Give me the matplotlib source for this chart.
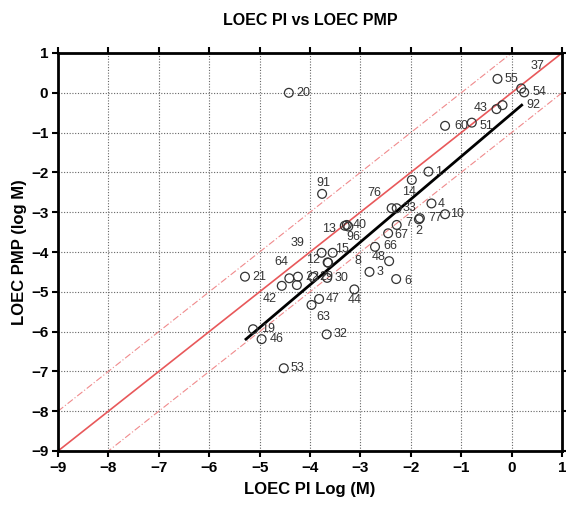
import matplotlib
matplotlib.use("Agg")
import matplotlib.pyplot as plt
import numpy as np

plt.rcParams['font.family'] = ['Liberation Sans', 'DejaVu Sans']

# ---- data (log M) ----
labels = ['20', '55', '37', '54', '92', '43', '51', '60', '1', '14', '91', '76', '33', '4',
          '77', '10', '2', '7', '67', '66', '40', '13', '96', '39', '15', '12', '8', '48',
          '3', '6', '44', '47', '63', '32', '21', '42', '64', '22', '', '29', '30',
          '19', '46', '53']
loec_pi = [-4.42, -0.28, 0.19, 0.25, -0.18, -0.30, -0.79, -1.32, -1.65, -1.98, -3.76, -2.38,
           -2.28, -1.59, -1.82, -1.32, -1.84, -2.28, -2.45, -2.71, -3.27, -3.31, -3.24, -3.77,
           -3.55, -3.65, -3.64, -2.43, -2.82, -2.29, -3.12, -3.82, -3.97, -3.67, -5.29, -4.56,
           -4.41, -4.24, -4.26, -3.94, -3.66, -5.13, -4.96, -4.52]
loec_pmp = [0.00, 0.35, 0.11, 0.01, -0.31, -0.41, -0.75, -0.83, -1.98, -2.19, -2.54, -2.90,
            -2.90, -2.78, -3.15, -3.05, -3.18, -3.32, -3.53, -3.87, -3.32, -3.34, -3.36, -4.02,
            -4.02, -4.26, -4.27, -4.23, -4.50, -4.68, -4.94, -5.18, -5.33, -6.07, -4.62, -4.85,
            -4.66, -4.62, -4.83, -4.63, -4.65, -5.94, -6.19, -6.92]
# label offsets (pixels) from each point
label_dx = [14, 14, 16, 15, 31, -16, 15, 16, 10, -3, 1, -17, 13, 10,
            15, 12, 0, 12, 13, 15, 13, -16, 5, -24, 9, -15, 30, -11,
            11, 12, 0, 14, 12, 14, 14, -12, -8, 14, 0, 13, 14,
            15, 15, 14]
label_dy = [0, 0, 22, 0, 0, 1, -3, 0, 0, -12, 11, 15, 0, -1,
            0, 0, -12, 2, -2, 1, 0, -3, -10, 10, 4, 2, 2, 4,
            0, -2, -11, 0, -12, 0, 0, -13, 16, 0, 0, 0, 0,
            0, 0, 0]

# regression line endpoints
fit_x = [-5.27, 0.20]
fit_y = [-6.19, -0.31]

ticks = list(range(-9, 2))

fig = plt.figure(figsize=(5.66, 5.09), dpi=100)
ax = fig.add_axes([58 / 566, 1 - 451 / 509, (562 - 58) / 566, (451 - 53) / 509])
ax.set_xlim(-9, 1)
ax.set_ylim(-9, 1)

ax.set_xticks(ticks)
ax.set_yticks(ticks)
ax.grid(True, color='#666666', linestyle=(0, (1, 1.5)), linewidth=0.8)
ax.set_axisbelow(True)

line = np.array([-9, 1])
ax.plot(line, line, color='#e8585a', lw=1.2, zorder=2)
ax.plot(line, line + 1, color='#f08a8c', lw=0.8, linestyle=(0, (6, 2, 1, 2)), zorder=2)
ax.plot(line, line - 1, color='#f08a8c', lw=0.8, linestyle=(0, (6, 2, 1, 2)), zorder=2)

ax.plot(fit_x, fit_y, color='black', lw=2.0, zorder=3)

ax.scatter(loec_pi, loec_pmp, s=40, facecolors='none', edgecolors='#333333', linewidths=0.9, zorder=4)
for lab, x, y, dx, dy in zip(labels, loec_pi, loec_pmp, label_dx, label_dy):
    if lab:
        ax.annotate(lab, (x, y), xytext=(dx, dy), textcoords='offset pixels',
                    ha='center', va='center', fontsize=9, color='#333333', zorder=5)

for s in ax.spines.values():
    s.set_linewidth(2)
ax.tick_params(axis='both', which='both', direction='out', length=4, width=1.5,
               top=True, right=True, labelsize=11, pad=3)
for t in ax.get_xticklabels() + ax.get_yticklabels():
    t.set_fontweight('bold')

ax.set_title('LOEC PI vs LOEC PMP', fontsize=11.5, fontweight='bold', pad=20)
ax.set_xlabel('LOEC PI Log (M)', fontsize=12, fontweight='bold', labelpad=5)
ax.set_ylabel('LOEC PMP (log M)', fontsize=12, fontweight='bold', labelpad=3)

fig.savefig('out.png', dpi=100)
